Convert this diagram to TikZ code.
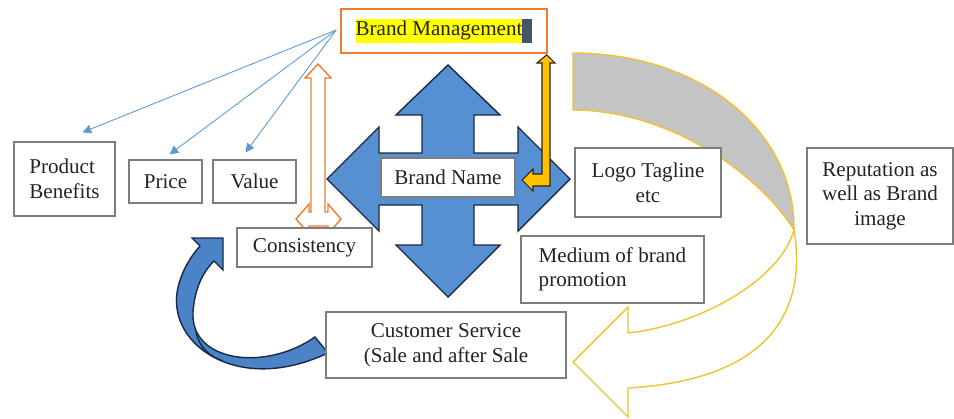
\documentclass[tikz,border=0pt]{standalone}
\usepackage{fontspec}
\setmainfont{Liberation Serif}
\usetikzlibrary{arrows.meta}
\definecolor{boxgray}{RGB}{125,125,125}
\definecolor{textdark}{RGB}{35,35,35}
\definecolor{brandorange}{RGB}{237,125,49}
\definecolor{arrowblue}{RGB}{86,144,210}
\definecolor{curveblue}{RGB}{74,132,198}
\definecolor{navy}{RGB}{25,40,70}
\definecolor{fanblue}{RGB}{91,155,213}
\definecolor{gold}{RGB}{255,192,0}
\definecolor{goldline}{RGB}{242,194,48}
\definecolor{backgray}{RGB}{196,196,196}
\definecolor{hlyellow}{RGB}{255,255,0}
\definecolor{cursor}{RGB}{68,84,106}
\setlength{\fboxsep}{0pt}
\tikzset{
  box/.style={draw=boxgray, line width=0.7pt, fill=white, inner sep=2pt, align=center,
    text=textdark, font=\fontsize{12}{14}\selectfont},
  bmbox/.style={box, draw=brandorange, line width=0.9pt},
  fanline/.style={fanblue, line width=0.5pt, -{Triangle[length=5pt,width=5pt]}},
  bigarrow/.style={fill=arrowblue, draw=navy, line width=0.8pt},
  hollowarrow/.style={fill=white, draw=brandorange, line width=0.8pt},
  bentarrow/.style={fill=gold, draw=textdark, line width=0.6pt},
  curveback/.style={fill=backgray, draw=goldline, line width=0.8pt},
  curvefront/.style={fill=white, draw=goldline, line width=0.8pt},
  curvedblue/.style={fill=curveblue, draw=navy, line width=0.8pt}
}
\begin{document}
\begin{tikzpicture}[x=0.02cm, y=-0.02cm]
  \useasboundingbox (0,0) rectangle (954,419);
  \draw[curveback] (573,53) .. controls (700,53) and (795,130) .. (794,230)
    .. controls (760,175) and (670,110) .. (573,110) -- cycle;
  \draw[curvefront] (794,230) .. controls (808,315) and (765,380) .. (628,388)
    -- (628,417) -- (573,362) -- (628,307) -- (628,333)
    .. controls (700,325) and (780,280) .. (794,230) -- cycle;
  \draw[hollowarrow] (318,64) -- (331,78) -- (325,78) -- (325,212) -- (328,212) -- (328,204)
    -- (341,219) -- (328,234) -- (328,226) -- (309,226) -- (309,234) -- (296,219)
    -- (309,204) -- (309,212) -- (311,212) -- (311,78) -- (305,78) -- cycle;
  \draw[bigarrow] (448,65) -- (500,115) -- (474,115) -- (474,153) -- (518,153) -- (518,127)
    -- (570,179) -- (518,231) -- (518,205) -- (474,205) -- (474,245) -- (500,245)
    -- (448,297) -- (396,245) -- (422,245) -- (422,205) -- (379,205) -- (379,231)
    -- (327,179) -- (379,127) -- (379,153) -- (422,153) -- (422,115) -- (396,115) -- cycle;
  \draw[curvedblue] (315,337) .. controls (265,372) and (190,362) .. (193,312)
    .. controls (195,285) and (205,270) .. (214,261) -- (223,270) -- (223,238)
    -- (192,238) -- (200,246) .. controls (183,265) and (174,290) .. (177,308)
    .. controls (182,352) and (245,392) .. (328,353) -- cycle;
  \draw[navy, line width=0.8pt] (196,332) .. controls (199,347) and (210,357) .. (223,361);

  \node[bmbox, minimum width=4.12cm, minimum height=0.88cm] (bm) at (444,31)
    {\colorbox{hlyellow}{\strut Brand Management}\textcolor{cursor}{\rule[-4.2pt]{0.2cm}{14pt}}};
  \node[box, minimum width=2.68cm, minimum height=0.78cm] (bn) at (448,177.5) {Brand Name};
  \node[box, minimum width=2.02cm, minimum height=1.48cm, align=left] (pb) at (64.5,179) {Product\\Benefits};
  \node[box, minimum width=1.46cm, minimum height=0.86cm] (price) at (165.5,181.5) {Price};
  \node[box, minimum width=1.66cm, minimum height=0.86cm] (value) at (254.5,181.5) {Value};
  \node[box, minimum width=2.70cm, minimum height=0.78cm] (cons) at (304.5,247.5) {Consistency};
  \node[box, minimum width=2.92cm, minimum height=1.38cm] (logo) at (648,182.5) {Logo Tagline\\etc};
  \node[box, minimum width=3.66cm, minimum height=1.34cm, align=left] (med) at (612.5,269.5) {Medium of brand\\promotion};
  \node[box, minimum width=2.92cm, minimum height=1.92cm] (rep) at (880,196) {Reputation as\\well as Brand\\image};
  \node[box, minimum width=4.80cm, minimum height=1.32cm] (cs) at (446,345) {Customer Service\\(Sale and after Sale};

  \coordinate (fan) at ([shift={(-4,-1)}]bm.west);
  \draw[fanline] (fan) -- ([shift={(18,-9)}]pb.north);
  \draw[fanline] (fan) -- ([shift={(4,-5)}]price.north);
  \draw[fanline] (fan) -- ([shift={(-9,-7)}]value.north);

  \draw[bentarrow] ([shift={(-1,1)}]bm.south east) -- (555,63) -- (550,63) -- (550,186) -- (533,186)
    -- (533,191) -- (522,180) -- (533,169) -- (533,174) -- (542,174) -- (542,63) -- (537,63) -- cycle;
\end{tikzpicture}
\end{document}
